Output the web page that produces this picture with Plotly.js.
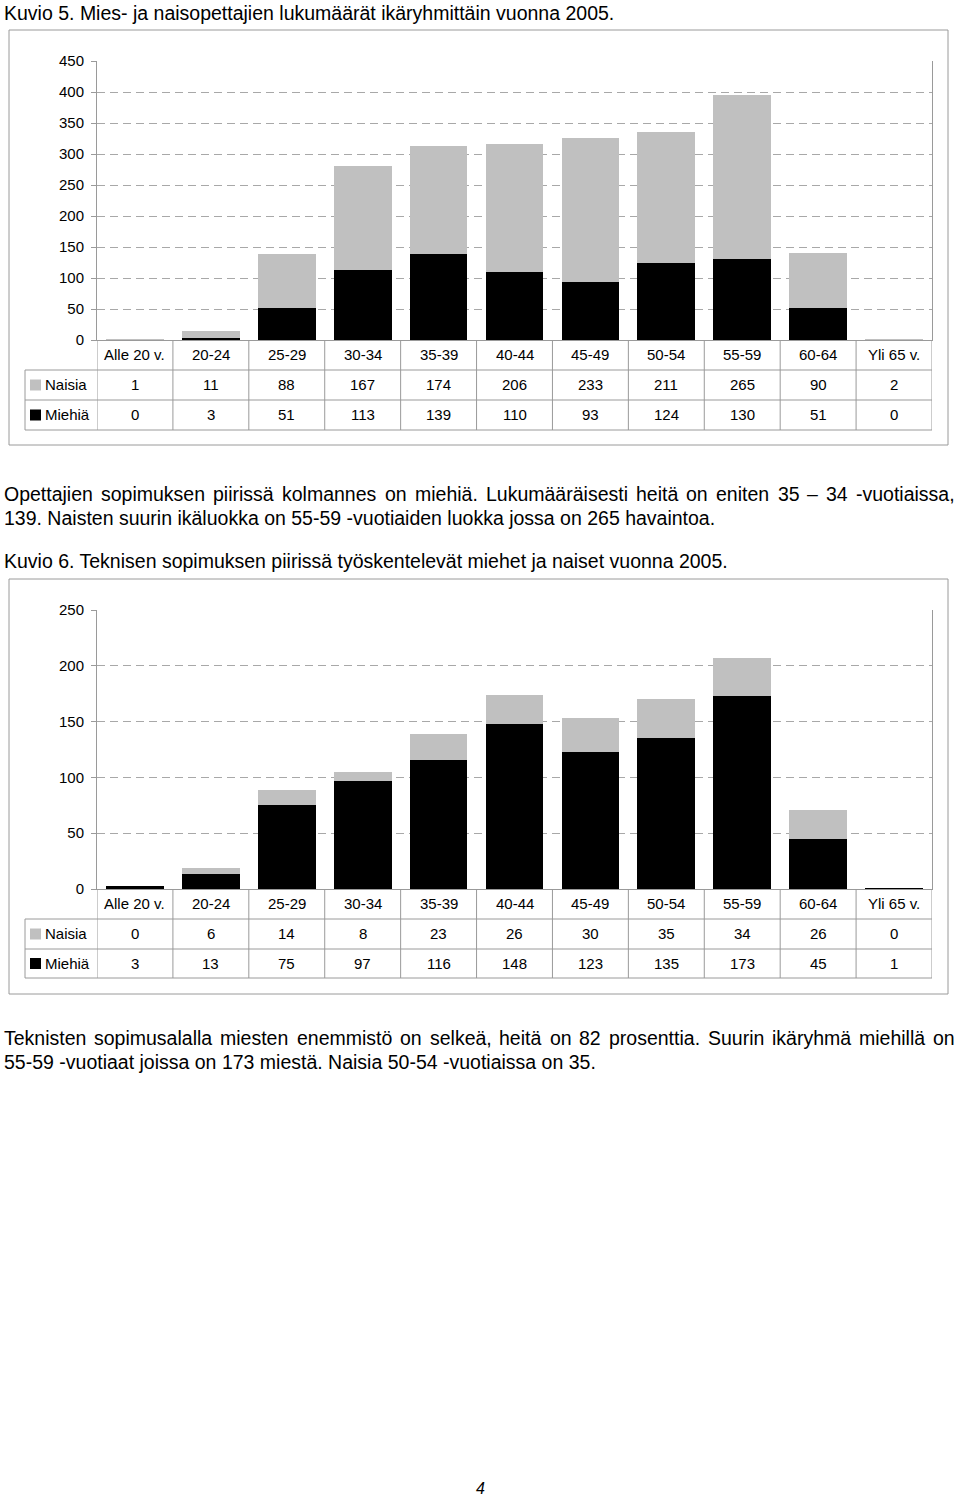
<!DOCTYPE html>
<html>
<head>
<meta charset="utf-8">
<script src="https://cdn.plot.ly/plotly-3.0.1.min.js"></script>
<style>
  body { margin: 0; background: #fff; }
  #sivu { width: 960px; height: 1499px; }
</style>
</head>
<body>
<div id="sivu"></div>
<script>
// Ikäryhmät (sarakkeet)
const ikaryhmat = ["Alle 20 v.", "20-24", "25-29", "30-34", "35-39", "40-44",
  "45-49", "50-54", "55-59", "60-64", "Yli 65 v."];

// Kuvio 5: opettajat
const opeNaisia = [1, 11, 88, 167, 174, 206, 233, 211, 265, 90, 2];
const opeMiehia = [0, 3, 51, 113, 139, 110, 93, 124, 130, 51, 0];

// Kuvio 6: tekninen sopimus
const tekNaisia = [0, 6, 14, 8, 23, 26, 30, 35, 34, 26, 0];
const tekMiehia = [3, 13, 75, 97, 116, 148, 123, 135, 173, 45, 1];

const sarjat = ["Naisia", "Miehiä"];
const varit = { Naisia: "#c0c0c0", "Miehiä": "#000000" };

const W = 960, H = 1499;
const px = (x) => x / W;
const py = (y) => 1 - y / H;

const FONT = '"Liberation Sans", Arial, sans-serif';
const viiva = "#9a9a9a";

const traces = [];
const shapes = [];
const annotations = [];
const layout = {
  width: W, height: H,
  margin: { l: 0, r: 0, t: 0, b: 0 },
  paper_bgcolor: "#fff", plot_bgcolor: "#fff",
  barmode: "stack", bargap: 0.24,
  showlegend: false,
  font: { family: FONT, size: 15, color: "#000" },
  shapes: shapes,
  annotations: annotations,
};

// yksi kuvio: pylväät + taulukko alle
function kuvio(n, naisia, miehia, ymax, g) {
  const xa = n === 1 ? "x" : "x" + n;
  const ya = n === 1 ? "y" : "y" + n;

  traces.push({ type: "bar", name: "Miehiä", x: ikaryhmat, y: miehia,
    xaxis: xa, yaxis: ya, marker: { color: varit["Miehiä"] }, hoverinfo: "skip" });
  traces.push({ type: "bar", name: "Naisia", x: ikaryhmat, y: naisia,
    xaxis: xa, yaxis: ya, marker: { color: varit.Naisia }, hoverinfo: "skip" });

  layout[n === 1 ? "xaxis" : "xaxis" + n] = {
    domain: [px(g.left), px(g.right)], anchor: ya,
    type: "category", range: [-0.5, ikaryhmat.length - 0.5],
    showticklabels: false, ticks: "", showgrid: false, zeroline: false,
    showline: true, linecolor: viiva, linewidth: 1,
  };
  layout[n === 1 ? "yaxis" : "yaxis" + n] = {
    domain: [py(g.zero), py(g.top)], anchor: xa,
    range: [0, ymax], dtick: 50, zeroline: false,
    showline: true, mirror: true, linecolor: viiva, linewidth: 1,
    showgrid: true, gridcolor: "#a8a8a8", griddash: "8px,5px", gridwidth: 1,
    ticks: "outside", ticklen: 5, tickcolor: viiva, ticklabelstandoff: 4,
    tickfont: { size: 15, family: FONT, color: "#000" },
  };

  // ulkokehys
  shapes.push({ type: "rect", xref: "paper", yref: "paper",
    x0: px(g.frame[0]), x1: px(g.frame[2]), y0: py(g.frame[3]), y1: py(g.frame[1]),
    line: { color: viiva, width: 1 } });

  // taulukon vaakaviivat
  g.rows.slice(1).forEach((r) => {
    shapes.push({ type: "line", xref: "paper", yref: "paper",
      x0: px(25), x1: px(g.right), y0: py(r), y1: py(r),
      line: { color: viiva, width: 1 } });
  });
  // taulukon pystyviivat
  shapes.push({ type: "line", xref: "paper", yref: "paper",
    x0: px(25), x1: px(25), y0: py(g.rows[1]), y1: py(g.rows[3]),
    line: { color: viiva, width: 1 } });
  for (let i = 0; i <= ikaryhmat.length; i++) {
    shapes.push({ type: "line", xref: xa, yref: "paper",
      x0: i - 0.5, x1: i - 0.5, y0: py(g.rows[0]), y1: py(g.rows[3]),
      line: { color: viiva, width: 1 } });
  }

  // sarakeotsikot
  ikaryhmat.forEach((k) => {
    annotations.push({ xref: xa, yref: "paper", x: k, y: py((g.rows[0] + g.rows[1]) / 2),
      text: k, showarrow: false, xanchor: "center", yanchor: "middle",
      font: { size: 15, family: FONT } });
  });

  // arvorivit
  [naisia, miehia].forEach((arvot, r) => {
    const yc = (g.rows[r + 1] + g.rows[r + 2]) / 2;
    const nimi = sarjat[r];
    shapes.push({ type: "rect", xref: "paper", yref: "paper",
      x0: px(30), x1: px(41), y0: py(yc + 5.5), y1: py(yc - 5.5),
      fillcolor: varit[nimi], line: { width: 0 } });
    annotations.push({ xref: "paper", yref: "paper", x: px(43), y: py(yc),
      text: nimi, showarrow: false, xanchor: "left", yanchor: "middle",
      font: { size: 15, family: FONT } });
    arvot.forEach((v, i) => {
      annotations.push({ xref: xa, yref: "paper", x: ikaryhmat[i], y: py(yc),
        text: String(v), showarrow: false, xanchor: "center", yanchor: "middle",
        font: { size: 15, family: FONT } });
    });
  });
}

kuvio(1, opeNaisia, opeMiehia, 450, {
  left: 97, right: 932, top: 61, zero: 340,
  rows: [340, 370, 400, 430], frame: [9, 30, 948, 445],
});
kuvio(2, tekNaisia, tekMiehia, 250, {
  left: 97, right: 932, top: 610, zero: 889,
  rows: [889, 919, 949, 978], frame: [9, 579, 948, 994],
});

// tekstirivit (tasattu rivi jaetaan sanoiksi)
const ctx = document.createElement("canvas").getContext("2d");
function rivi(teksti, y, koko, tasaa) {
  const fontti = { size: koko, family: FONT, color: "#000" };
  if (!tasaa) {
    annotations.push({ xref: "paper", yref: "paper", x: px(2), y: py(y), text: teksti,
      showarrow: false, xanchor: "left", yanchor: "middle", font: fontti });
    return;
  }
  ctx.font = koko + "px " + FONT;
  const sanat = teksti.split(" ");
  const lev = sanat.map((s) => ctx.measureText(s).width);
  const summa = lev.reduce((a, b) => a + b, 0);
  const vali = (954 - 3 - summa) / (sanat.length - 1);
  let x = 3;
  sanat.forEach((s, i) => {
    annotations.push({ xref: "paper", yref: "paper", x: px(x - 1), y: py(y), text: s,
      showarrow: false, xanchor: "left", yanchor: "middle", font: fontti });
    x += lev[i] + vali;
  });
}

rivi("Kuvio 5. Mies- ja naisopettajien lukumäärät ikäryhmittäin vuonna 2005.", 13, 19.5, false);
rivi("Opettajien sopimuksen piirissä kolmannes on miehiä. Lukumääräisesti heitä on eniten 35 – 34 -vuotiaissa,", 494, 19.5, true);
rivi("139. Naisten suurin ikäluokka on 55-59 -vuotiaiden luokka jossa on 265 havaintoa.", 518, 19.5, false);
rivi("Kuvio 6. Teknisen sopimuksen piirissä työskentelevät miehet ja naiset vuonna 2005.", 561, 19.5, false);
rivi("Teknisten sopimusalalla miesten enemmistö on selkeä, heitä on 82 prosenttia. Suurin ikäryhmä miehillä on", 1038, 19.5, true);
rivi("55-59 -vuotiaat joissa on 173 miestä. Naisia 50-54 -vuotiaissa on 35.", 1062, 19.5, false);

// sivunumero
annotations.push({ xref: "paper", yref: "paper", x: px(480), y: py(1488), text: "<i>4</i>",
  showarrow: false, xanchor: "center", yanchor: "middle", font: { size: 16, family: FONT } });

Plotly.newPlot("sivu", traces, layout, { staticPlot: true, displayModeBar: false });
</script>
</body>
</html>
